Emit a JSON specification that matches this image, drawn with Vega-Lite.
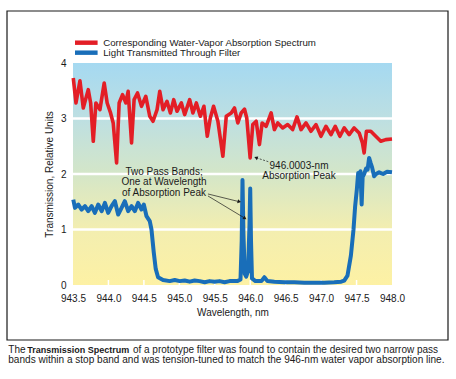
{
  "$schema": "https://vega.github.io/schema/vega-lite/v6.json",
  "width": 319,
  "height": 222,
  "autosize": {"type": "none"},
  "padding": {"left": 73, "top": 63, "right": 64, "bottom": 94},
  "data": {"values": [{}]},
  "config": {
    "view": {"stroke": null},
    "font": "Liberation Sans",
    "axis": {"labelFontSize": 10, "titleFontSize": 10, "titleFontWeight": "normal", "labelColor": "#1a1a1a", "titleColor": "#1a1a1a", "domain": false, "ticks": false, "grid": false, "labelFlush": false, "labelOverlap": false}
  },
  "layer": [
    {
      "mark": {"type": "rect", "fill": {"gradient": "linear", "x1": 0, "y1": 0, "x2": 0, "y2": 1, "stops": [
        {"offset": 0, "color": "#a5d9f1"},
        {"offset": 0.25, "color": "#bddfe2"},
        {"offset": 0.5, "color": "#d4e6c8"},
        {"offset": 0.75, "color": "#f3eeb0"},
        {"offset": 1, "color": "#fdf1a4"}
      ]}},
      "encoding": {
        "x": {"datum": 943.5, "type": "quantitative", "scale": {"domain": [943.5, 948], "nice": false, "zero": false},
              "axis": {"title": "Wavelength, nm", "values": [943.5, 944, 944.5, 945, 945.5, 946, 946.5, 947, 947.5, 948], "tickCount": 20, "format": ".1f", "labelPadding": 8, "titlePadding": 4, "labelOverlap": false, "labelBound": false, "labelFlush": false}},
        "x2": {"datum": 948},
        "y": {"datum": 0, "type": "quantitative", "scale": {"domain": [0, 4], "nice": false, "zero": false},
              "axis": {"title": "Transmission, Relative Units", "values": [0, 1, 2, 3, 4], "tickCount": 10, "format": "d", "labelPadding": 7, "titlePadding": 6, "labelOverlap": false, "labelFlush": false}},
        "y2": {"datum": 4}
      }
    },
    {
      "data": {"values": [{"g": 1}, {"g": 2}, {"g": 3}]},
      "mark": {"type": "rule", "color": "#ffffff", "strokeWidth": 2.4},
      "encoding": {"y": {"field": "g", "type": "quantitative"}}
    },
    {
      "data": {"values": [{"tk": 944.0}, {"tk": 944.5}, {"tk": 945.0}, {"tk": 945.5}, {"tk": 946.0}, {"tk": 946.5}, {"tk": 947.0}, {"tk": 947.5}]},
      "mark": {"type": "rule", "color": "#ffffff", "strokeWidth": 1.5},
      "encoding": {"x": {"field": "tk", "type": "quantitative"}, "y": {"datum": 0}, "y2": {"datum": 0.09}}
    },
    {
      "data": {"values": [
        {"wl": 943.504, "t": 3.73}, {"wl": 943.542, "t": 3.28}, {"wl": 943.598, "t": 3.68}, {"wl": 943.645, "t": 3.19},
        {"wl": 943.715, "t": 3.52}, {"wl": 943.749, "t": 3.28}, {"wl": 943.786, "t": 2.59}, {"wl": 943.823, "t": 3.28},
        {"wl": 943.880, "t": 3.16}, {"wl": 943.940, "t": 3.64}, {"wl": 943.982, "t": 3.28}, {"wl": 944.030, "t": 3.10},
        {"wl": 944.067, "t": 2.92}, {"wl": 944.115, "t": 2.20}, {"wl": 944.151, "t": 3.28}, {"wl": 944.199, "t": 3.43},
        {"wl": 944.245, "t": 3.28}, {"wl": 944.278, "t": 3.49}, {"wl": 944.326, "t": 2.56}, {"wl": 944.362, "t": 3.34},
        {"wl": 944.410, "t": 3.46}, {"wl": 944.466, "t": 3.22}, {"wl": 944.527, "t": 3.40}, {"wl": 944.583, "t": 3.04},
        {"wl": 944.629, "t": 2.95}, {"wl": 944.686, "t": 3.16}, {"wl": 944.724, "t": 3.49}, {"wl": 944.770, "t": 3.16},
        {"wl": 944.826, "t": 3.31}, {"wl": 944.874, "t": 3.10}, {"wl": 944.921, "t": 3.34}, {"wl": 944.967, "t": 3.13},
        {"wl": 945.029, "t": 3.28}, {"wl": 945.075, "t": 3.07}, {"wl": 945.146, "t": 3.34}, {"wl": 945.192, "t": 3.10},
        {"wl": 945.240, "t": 3.28}, {"wl": 945.296, "t": 3.04}, {"wl": 945.347, "t": 3.22}, {"wl": 945.394, "t": 2.68},
        {"wl": 945.437, "t": 3.01}, {"wl": 945.483, "t": 3.22}, {"wl": 945.544, "t": 2.95}, {"wl": 945.614, "t": 2.32},
        {"wl": 945.662, "t": 3.04}, {"wl": 945.732, "t": 3.10}, {"wl": 945.778, "t": 3.19}, {"wl": 945.825, "t": 2.92},
        {"wl": 945.873, "t": 3.10}, {"wl": 945.919, "t": 3.17}, {"wl": 945.951, "t": 3.01}, {"wl": 945.999, "t": 2.29},
        {"wl": 946.036, "t": 2.89}, {"wl": 946.084, "t": 2.95}, {"wl": 946.130, "t": 2.53}, {"wl": 946.168, "t": 2.92},
        {"wl": 946.224, "t": 2.86}, {"wl": 946.295, "t": 3.10}, {"wl": 946.341, "t": 2.80}, {"wl": 946.388, "t": 2.92},
        {"wl": 946.458, "t": 2.83}, {"wl": 946.528, "t": 2.89}, {"wl": 946.598, "t": 2.80}, {"wl": 946.660, "t": 3.03},
        {"wl": 946.717, "t": 2.80}, {"wl": 946.787, "t": 2.92}, {"wl": 946.857, "t": 2.77}, {"wl": 946.928, "t": 2.89},
        {"wl": 946.998, "t": 2.68}, {"wl": 947.068, "t": 2.86}, {"wl": 947.139, "t": 2.71}, {"wl": 947.199, "t": 2.86},
        {"wl": 947.265, "t": 2.68}, {"wl": 947.326, "t": 2.83}, {"wl": 947.396, "t": 2.71}, {"wl": 947.466, "t": 2.83},
        {"wl": 947.537, "t": 2.74}, {"wl": 947.583, "t": 2.56}, {"wl": 947.607, "t": 2.38}, {"wl": 947.639, "t": 2.77},
        {"wl": 947.701, "t": 2.77}, {"wl": 947.771, "t": 2.68}, {"wl": 947.842, "t": 2.59}, {"wl": 947.912, "t": 2.62},
        {"wl": 948.000, "t": 2.63}
      ]},
      "mark": {"type": "line", "color": "#e31e26", "strokeWidth": 3.6, "strokeJoin": "round"},
      "encoding": {"x": {"field": "wl", "type": "quantitative"}, "y": {"field": "t", "type": "quantitative"}}
    },
    {
      "data": {"values": [
        {"wl": 943.504, "t": 1.54}, {"wl": 943.528, "t": 1.39}, {"wl": 943.575, "t": 1.45}, {"wl": 943.622, "t": 1.36},
        {"wl": 943.669, "t": 1.42}, {"wl": 943.715, "t": 1.33}, {"wl": 943.763, "t": 1.42}, {"wl": 943.809, "t": 1.30},
        {"wl": 943.856, "t": 1.45}, {"wl": 943.904, "t": 1.33}, {"wl": 943.950, "t": 1.48}, {"wl": 943.996, "t": 1.30},
        {"wl": 944.044, "t": 1.42}, {"wl": 944.091, "t": 1.51}, {"wl": 944.137, "t": 1.27}, {"wl": 944.185, "t": 1.39},
        {"wl": 944.231, "t": 1.51}, {"wl": 944.278, "t": 1.33}, {"wl": 944.326, "t": 1.42}, {"wl": 944.372, "t": 1.33},
        {"wl": 944.418, "t": 1.48}, {"wl": 944.466, "t": 1.36}, {"wl": 944.499, "t": 1.45}, {"wl": 944.537, "t": 1.24},
        {"wl": 944.583, "t": 1.15}, {"wl": 944.607, "t": 1.00}, {"wl": 944.639, "t": 0.59}, {"wl": 944.667, "t": 0.29},
        {"wl": 944.700, "t": 0.14}, {"wl": 944.770, "t": 0.09}, {"wl": 944.864, "t": 0.07}, {"wl": 944.935, "t": 0.09},
        {"wl": 945.005, "t": 0.07}, {"wl": 945.075, "t": 0.08}, {"wl": 945.146, "t": 0.06}, {"wl": 945.216, "t": 0.08},
        {"wl": 945.286, "t": 0.07}, {"wl": 945.357, "t": 0.05}, {"wl": 945.427, "t": 0.07}, {"wl": 945.497, "t": 0.06},
        {"wl": 945.567, "t": 0.07}, {"wl": 945.638, "t": 0.05}, {"wl": 945.708, "t": 0.07}, {"wl": 945.821, "t": 0.07},
        {"wl": 945.863, "t": 0.10}, {"wl": 945.880, "t": 0.80}, {"wl": 945.891, "t": 1.89}, {"wl": 945.905, "t": 0.90},
        {"wl": 945.923, "t": 0.20}, {"wl": 945.943, "t": 0.15}, {"wl": 945.969, "t": 0.25}, {"wl": 945.990, "t": 1.10},
        {"wl": 946.000, "t": 1.74}, {"wl": 946.011, "t": 0.80}, {"wl": 946.025, "t": 0.12}, {"wl": 946.074, "t": 0.07},
        {"wl": 946.158, "t": 0.07}, {"wl": 946.200, "t": 0.14}, {"wl": 946.243, "t": 0.07}, {"wl": 946.341, "t": 0.06},
        {"wl": 946.482, "t": 0.05}, {"wl": 946.622, "t": 0.05}, {"wl": 946.763, "t": 0.04}, {"wl": 946.904, "t": 0.04},
        {"wl": 947.044, "t": 0.04}, {"wl": 947.185, "t": 0.05}, {"wl": 947.283, "t": 0.06}, {"wl": 947.326, "t": 0.08},
        {"wl": 947.372, "t": 0.17}, {"wl": 947.420, "t": 0.53}, {"wl": 947.457, "t": 1.00}, {"wl": 947.480, "t": 1.42},
        {"wl": 947.504, "t": 1.72}, {"wl": 947.523, "t": 2.02}, {"wl": 947.537, "t": 1.80}, {"wl": 947.555, "t": 2.05},
        {"wl": 947.572, "t": 1.45}, {"wl": 947.586, "t": 1.95}, {"wl": 947.607, "t": 2.00}, {"wl": 947.635, "t": 2.10},
        {"wl": 947.656, "t": 2.08}, {"wl": 947.677, "t": 2.29}, {"wl": 947.698, "t": 2.20}, {"wl": 947.719, "t": 2.12},
        {"wl": 947.748, "t": 1.96}, {"wl": 947.776, "t": 2.00}, {"wl": 947.818, "t": 2.03}, {"wl": 947.874, "t": 2.00},
        {"wl": 947.930, "t": 2.04}, {"wl": 948.000, "t": 2.03}
      ]},
      "mark": {"type": "line", "color": "#196eb9", "strokeWidth": 4, "strokeJoin": "round"},
      "encoding": {"x": {"field": "wl", "type": "quantitative"}, "y": {"field": "t", "type": "quantitative"}}
    },
    {
      "mark": {"type": "text", "text": ["Two Pass Bands;", "One at Wavelength", "of Absorption Peak"], "align": "center", "baseline": "top", "fontSize": 10, "lineHeight": 10.3, "color": "#1a1a1a"},
      "encoding": {"x": {"datum": 944.784}, "y": {"datum": 2.126}}
    },
    {
      "mark": {"type": "text", "text": ["946.0003-nm", "Absorption Peak"], "align": "center", "baseline": "top", "fontSize": 10, "lineHeight": 10.3, "color": "#1a1a1a"},
      "encoding": {"x": {"datum": 946.688}, "y": {"datum": 2.234}}
    },
    {
      "mark": {"type": "rule", "color": "#1a1a1a", "strokeWidth": 0.7},
      "encoding": {"x": {"datum": 945.404}, "y": {"datum": 1.640}, "x2": {"datum": 945.846}, "y2": {"datum": 1.501}}
    },
    {
      "mark": {"type": "rule", "color": "#1a1a1a", "strokeWidth": 0.7},
      "encoding": {"x": {"datum": 945.404}, "y": {"datum": 1.604}, "x2": {"datum": 945.926}, "y2": {"datum": 1.202}}
    },
    {
      "mark": {"type": "rule", "color": "#1a1a1a", "strokeWidth": 0.7, "strokeDash": [2, 1.5]},
      "encoding": {"x": {"datum": 946.255}, "y": {"datum": 2.222}, "x2": {"datum": 946.081}, "y2": {"datum": 2.294}}
    },
    {
      "mark": {"type": "point", "shape": "triangle-right", "angle": 14, "size": 16, "filled": true, "color": "#1a1a1a", "opacity": 1},
      "encoding": {"x": {"datum": 945.846}, "y": {"datum": 1.501}}
    },
    {
      "mark": {"type": "point", "shape": "triangle-right", "angle": 33, "size": 16, "filled": true, "color": "#1a1a1a", "opacity": 1},
      "encoding": {"x": {"datum": 945.926}, "y": {"datum": 1.202}}
    },
    {
      "mark": {"type": "point", "shape": "triangle-left", "angle": 20, "size": 16, "filled": true, "color": "#1a1a1a", "opacity": 1},
      "encoding": {"x": {"datum": 946.081}, "y": {"datum": 2.294}}
    },
    {
      "mark": {"type": "rect", "color": "#e31e26"},
      "encoding": {"x": {"datum": 943.528}, "x2": {"datum": 943.847}, "y": {"datum": 4.326}, "y2": {"datum": 4.406}}
    },
    {
      "mark": {"type": "rect", "color": "#196eb9"},
      "encoding": {"x": {"datum": 943.528}, "x2": {"datum": 943.847}, "y": {"datum": 4.146}, "y2": {"datum": 4.226}}
    },
    {
      "mark": {"type": "text", "text": "Corresponding Water-Vapor Absorption Spectrum", "align": "left", "baseline": "middle", "fontSize": 9.7, "color": "#1a1a1a"},
      "encoding": {"x": {"datum": 943.926}, "y": {"datum": 4.366}}
    },
    {
      "mark": {"type": "text", "text": "Light Transmitted Through Filter", "align": "left", "baseline": "middle", "fontSize": 9.7, "color": "#1a1a1a"},
      "encoding": {"x": {"datum": 943.926}, "y": {"datum": 4.186}}
    },
    {
      "mark": {"type": "text", "text": "The", "align": "left", "baseline": "middle", "fontSize": 10, "color": "#1a1a1a"},
      "encoding": {"x": {"datum": 942.587}, "y": {"datum": -1.180}}
    },
    {
      "mark": {"type": "text", "text": "Transmission Spectrum", "align": "left", "baseline": "middle", "fontSize": 9, "fontWeight": "bold", "color": "#1a1a1a"},
      "encoding": {"x": {"datum": 942.855}, "y": {"datum": -1.180}}
    },
    {
      "mark": {"type": "text", "text": "of a prototype filter was found to contain the desired two narrow pass", "align": "left", "baseline": "middle", "fontSize": 10, "color": "#1a1a1a"},
      "encoding": {"x": {"datum": 944.345}, "y": {"datum": -1.180}}
    },
    {
      "mark": {"type": "text", "text": "bands within a stop band and was tension-tuned to match the 946-nm water vapor absorption line.", "align": "left", "baseline": "middle", "fontSize": 10.05, "color": "#1a1a1a"},
      "encoding": {"x": {"datum": 942.587}, "y": {"datum": -1.360}}
    },
    {
      "mark": {"type": "rect", "fill": null, "filled": false, "stroke": "#1a1a1a", "strokeWidth": 1.2},
      "encoding": {"x": {"datum": 942.569}, "x2": {"datum": 948.79}, "y": {"datum": 4.937}, "y2": {"datum": -0.991}}
    }
  ]
}
